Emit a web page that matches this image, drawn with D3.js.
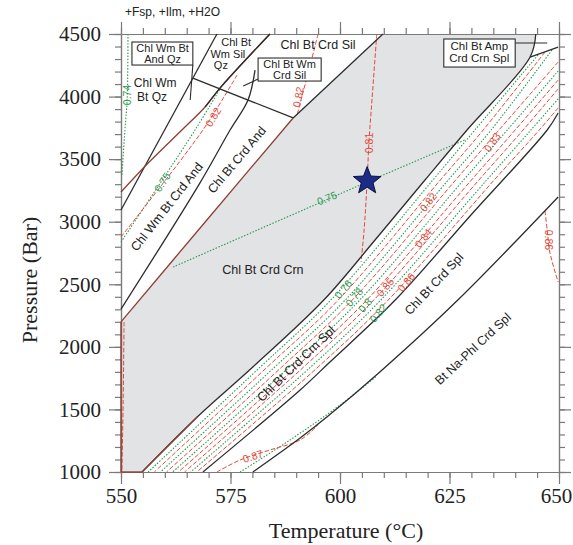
<!DOCTYPE html>
<html><head><meta charset="utf-8">
<script src="https://cdn.jsdelivr.net/npm/d3@7/dist/d3.min.js"></script>
<style>body{margin:0;background:#fff}svg{display:block}</style>
</head><body><svg id="c" width="573" height="545"></svg>
<script>
// ---------- data (Temperature °C, Pressure bar) ----------
const xTickLabels = [550, 575, 600, 625, 650];
const yTickLabels = [1000, 1500, 2000, 2500, 3000, 3500, 4000, 4500];

// field boundaries
const grayUpper = [[550,2199],[569.6,3014],[589.3,3829],[609.8,4500]];
const b1 = [[644.7,4500],[643.4,4316],[629.0,3733],[619.4,3333],[608.0,2854],[596.3,2374],[580.1,1839],[567.4,1440],[554.8,1000]];
const b2 = [[649.8,3869],[647.3,3733],[629.9,3054],[612.6,2374],[597.7,1879],[590.9,1655],[568.7,1000]];
const b3 = [[649.8,3198],[626.9,2374],[609.1,1799],[597.0,1439],[590.9,1272],[580.1,1000]];
const l1 = [[550,3094],[571.9,4500]];
const l2 = [[550,3237],[556.2,3469],[563.9,3733],[569.2,3917],[572.6,4068],[584.0,4500]];
const l3 = [[550,2302],[568.0,3309],[574.9,3733],[579.0,3973],[580.6,4212]];
const lh = [[566.4,4148],[589.3,3829]];
const ampLine = [[643.4,4316],[649.8,4396]];
const leftEdge = [[550,1000],[550,2199]];
const bottomEdge = [[550,1000],[554.8,1000]];

// isopleths
const g074 = [[551.6,4500],[551.4,3973],[550.9,3733],[550.2,3373]];
const g075a = [[550,2838],[566.9,3733],[572.6,4061]];
const r082a = [[550,2878],[568.7,3733],[576.5,4172]];
const r082b = [[595.0,4500],[593.2,4252],[590.2,3853]];
const r081 = [[608.4,4500],[607.3,3973],[606.6,3629],[606.2,3325],[605.5,2934],[604.8,2678]];
const g075b = [[561.9,2638],[606.2,3317],[628.5,3653]];
const rLeft = [[550.7,2199],[550.5,1575],[550.2,1000]];
const r086 = [[646.8,3086],[647.3,2934],[647.9,2758],[649.8,2518]];
const r087 = [[571.9,1000],[577.2,1096],[584.0,1176],[590.9,1256],[595.0,1376]];
const gB3 = [[577.2,1000],[588.6,1256],[600.0,1535],[608.4,1767]];
const band1 = [[645.2,4332],[630.8,3733],[621.2,3333],[597.9,2374],[581.8,1839],[556.2,1000]];
const band2 = [[646.8,4356],[632.7,3733],[622.9,3333],[599.6,2374],[583.4,1839],[557.6,1000]];
const band3 = [[648.4,4372],[634.5,3733],[624.7,3333],[601.2,2374],[585.1,1839],[559.0,1000]];
const band4 = [[649.8,4276],[636.3,3733],[626.4,3333],[602.8,2374],[586.7,1839],[560.4,1000]];
const band5 = [[649.8,4204],[638.2,3733],[628.2,3333],[604.5,2374],[588.4,1839],[561.8,1000]];
const band6 = [[649.8,4132],[640.0,3733],[630.0,3333],[606.1,2374],[590.0,1839],[563.1,1000]];
const band7 = [[649.8,4061],[641.8,3733],[631.7,3333],[607.7,2374],[591.7,1839],[564.5,1000]];
const band8 = [[649.8,3981],[643.6,3733],[633.5,3333],[609.3,2374],[593.3,1839],[565.9,1000]];
const band9 = [[649.8,3909],[645.5,3733],[635.2,3333],[611.0,2374],[595.0,1839],[567.3,1000]];

// isopleth labels: text, T, P
const redLabels = [["0.82",571.0,3837],["0.82",590.4,3997],["0.81",606.6,3629],["0.86",647.7,2854],["0.87",580.1,1128],
                   ["0.82",620.1,3158],["0.84",619.0,2870],["0.83",634.7,3637],["0.85",610.3,2478],["0.86",615.1,2518]];
const greenLabels = [["0.74",551.4,4013],["0.75",559.4,3317],["0.75",597.0,3190],
                     ["0.76",600.7,2462],["0.78",603.2,2398],["0.8",605.7,2334],["0.82",608.7,2271]];
// field names
const fieldNames = ["Chl Wm Bt Crd And","Chl Bt Crd And","Chl Bt Crd Crn","Chl Bt Crd Crn Spl","Chl Bt Crd Spl","Bt Na-Phl Crd Spl","Chl Bt Crd Sil"];
const fieldPos = [[560.5,3118],[576.5,3493],[582.4,2614],[590.0,1863],[621.5,2502],[630.4,1983],[595.0,4412]];
const starPoint = [606.2, 3325];

// ---------- drawing ----------
const svg = d3.select("#c");
const x = d3.scaleLinear().domain([550,650]).range([121,559]);
const y = d3.scaleLinear().domain([1000,4500]).range([472,34]);
const curve = d3.line().x(d=>x(d[0])).y(d=>y(d[1])).curve(d3.curveCatmullRom.alpha(0.5));
const lin = d3.line().x(d=>x(d[0])).y(d=>y(d[1]));

const BLACK="#2d2d2d", BROWN="#8e3f33", RED="#e4493b", GREEN="#2a9a50", GRAY="#e2e3e5", AXIS="#7a7a7a";
const SANS="'Liberation Sans', Arial, sans-serif", SERIF="'Liberation Serif','Times New Roman',serif";

// gray field
const grayPath = lin([[550,1000],...grayUpper]) + curve(b1).replace(/^M/,"L") + "Z";
svg.append("path").attr("d",grayPath).attr("fill",GRAY);

// axes
function styleAxis(g){ g.selectAll("path,line").attr("stroke",AXIS).attr("stroke-width",1.2); }
const xMinor = x.ticks(20), yMinor = y.ticks(35);
function addAxis(gen, tr, vals, size, labels){
  const g = svg.append("g").attr("transform",tr)
    .call(gen.tickValues(vals).tickSize(size).tickSizeOuter(0).tickPadding(labels?4:0).tickFormat(labels?d3.format("d"):""));
  styleAxis(g);
  g.selectAll("text").attr("font-family",SERIF).attr("font-size",21).attr("fill","#222");
  return g;
}
addAxis(d3.axisBottom(x),"translate(0,472)",xMinor,6,false);
const bx = addAxis(d3.axisBottom(x),"translate(0,472)",xTickLabels,12,true);
bx.selectAll("text").filter(d=>d===650).attr("x",-3);
addAxis(d3.axisTop(x),"translate(0,34)",xMinor,6,false);
addAxis(d3.axisTop(x),"translate(0,34)",xTickLabels,12,false);
addAxis(d3.axisLeft(y),"translate(121,0)",yMinor,6,false);
addAxis(d3.axisLeft(y),"translate(121,0)",yTickLabels,12,true).selectAll("text").attr("x",-20);
addAxis(d3.axisRight(y),"translate(559,0)",yMinor,6,false);
addAxis(d3.axisRight(y),"translate(559,0)",yTickLabels,12,false);

// isopleths
function iso(pts,color){
  const green = color===GREEN;
  svg.append("path").attr("d",curve(pts)).attr("fill","none").attr("stroke",color)
    .attr("stroke-width",green?1.1:1).attr("stroke-dasharray",green?"1.5,1.6":"4.5,2");
}
[g074,g075a,g075b,gB3,band1,band3,band5,band8].forEach(p=>iso(p,GREEN));
[r082a,r082b,r081,rLeft,r086,r087,band2,band4,band6,band7,band9].forEach(p=>iso(p,RED));

// boundaries
function bnd(pts,color,w){ svg.append("path").attr("d",curve(pts)).attr("fill","none").attr("stroke",color).attr("stroke-width",w||1.3); }
bnd(b1,BLACK); bnd(b2,BLACK); bnd(b3,BLACK);
bnd(l1,BLACK); bnd(l2,BROWN); bnd(l2.slice(3),BLACK); bnd(l3,BLACK); bnd(lh,BLACK); bnd(ampLine,BLACK);
bnd(grayUpper.slice(0,3),BROWN); bnd(grayUpper.slice(2),BLACK);
bnd(leftEdge,BROWN,1.4); bnd(bottomEdge,BROWN,1.4);
bnd(b1.slice(-2),BROWN);

// isopleth labels
function isoLabel(arr,color,angles){
  arr.forEach((d,i)=>{
    const px=x(d[1]), py=y(d[2]);
    svg.append("text").attr("x",px).attr("y",py).attr("transform",`rotate(${angles[i]},${px},${py})`)
      .attr("text-anchor","middle").attr("dominant-baseline","central")
      .attr("font-family",SANS).attr("font-size",10.5).attr("fill",color).text(d[0]);
  });
}
isoLabel(redLabels,RED,[-60,-80,-90,90,-18,-52,-52,-55,-50,-50]);
isoLabel(greenLabels,GREEN,[-90,-57,-23,-50,-50,-50,-50]);

// field names
const fieldAngles=[-52,-50,0,-44,-47,-43,0];
fieldNames.forEach((t,i)=>{
  const px=x(fieldPos[i][0]), py=y(fieldPos[i][1]);
  svg.append("text").attr("x",px).attr("y",py).attr("transform",`rotate(${fieldAngles[i]},${px},${py})`)
    .attr("text-anchor","middle").attr("dominant-baseline","central")
    .attr("font-family",SANS).attr("font-size",12.5).attr("fill","#222").text(t);
});
function multi(lines,T,P,step,size,anchor){
  lines.forEach((t,i)=>{
    svg.append("text").attr("x",x(T[i])).attr("y",y(P)+i*step).attr("text-anchor",anchor||"middle")
      .attr("dominant-baseline","central").attr("font-family",SANS).attr("font-size",size).attr("fill","#222").text(t);
  });
}
// boxes with leaders
function box(T0,P0,T1,P1){
  svg.append("rect").attr("x",x(T0)).attr("y",y(P0)).attr("width",x(T1)-x(T0)).attr("height",y(P1)-y(P0))
    .attr("fill","#fff").attr("stroke",BLACK).attr("stroke-width",1.1);
}
function leader(a,b){ svg.append("path").attr("d",lin([a,b])).attr("stroke",BLACK).attr("stroke-width",1.1).attr("fill","none"); }
leader([566.4,4252],[565.8,3973]); box(552.5,4436,566.4,4252);
multi(["Chl Wm Bt","And Qz"],[559.5,559.5],4390,11,11);
leader([581.3,4140],[577.9,4084]); box(581.3,4308,595.7,4124);
multi(["Chl Bt Wm","Crd Sil"],[588.5,588.5],4260,11,11);
leader([640.0,4428],[647.3,4428]); box(623.7,4460,640.0,4236);
multi(["Chl Bt Amp","Crd Crn Spl"],[631.8,631.8],4404,11.5,11.5);
multi(["Chl Bt","Wm Sil","Qz"],[576.3,574.4,572.8],4436,11.5,11);
multi(["Chl Wm","Bt Qz"],[557.8,557.1],4108,14,12);

// title note
svg.append("text").attr("x",125).attr("y",16).attr("font-family",SANS).attr("font-size",12).attr("fill","#222").text("+Fsp, +Ilm, +H2O");

// star
const sx=x(starPoint[0]), sy=y(starPoint[1]);
const starPts=d3.range(10).map(i=>{const r=i%2?6.2:14.5, a=-Math.PI/2+i*Math.PI/5; return [sx+r*Math.cos(a), sy+r*Math.sin(a)];});
svg.append("path").attr("d","M"+starPts.join("L")+"Z").attr("fill","#1d2a86").attr("stroke","#0d1240").attr("stroke-width",1);

// axis titles
svg.append("text").attr("x",346).attr("y",538).attr("text-anchor","middle").attr("font-family",SERIF).attr("font-size",22).attr("fill","#222").text("Temperature (°C)");
svg.append("text").attr("transform","translate(37,280) rotate(-90)").attr("text-anchor","middle").attr("font-family",SERIF).attr("font-size",22).attr("fill","#222").text("Pressure (Bar)");
</script></body></html>
